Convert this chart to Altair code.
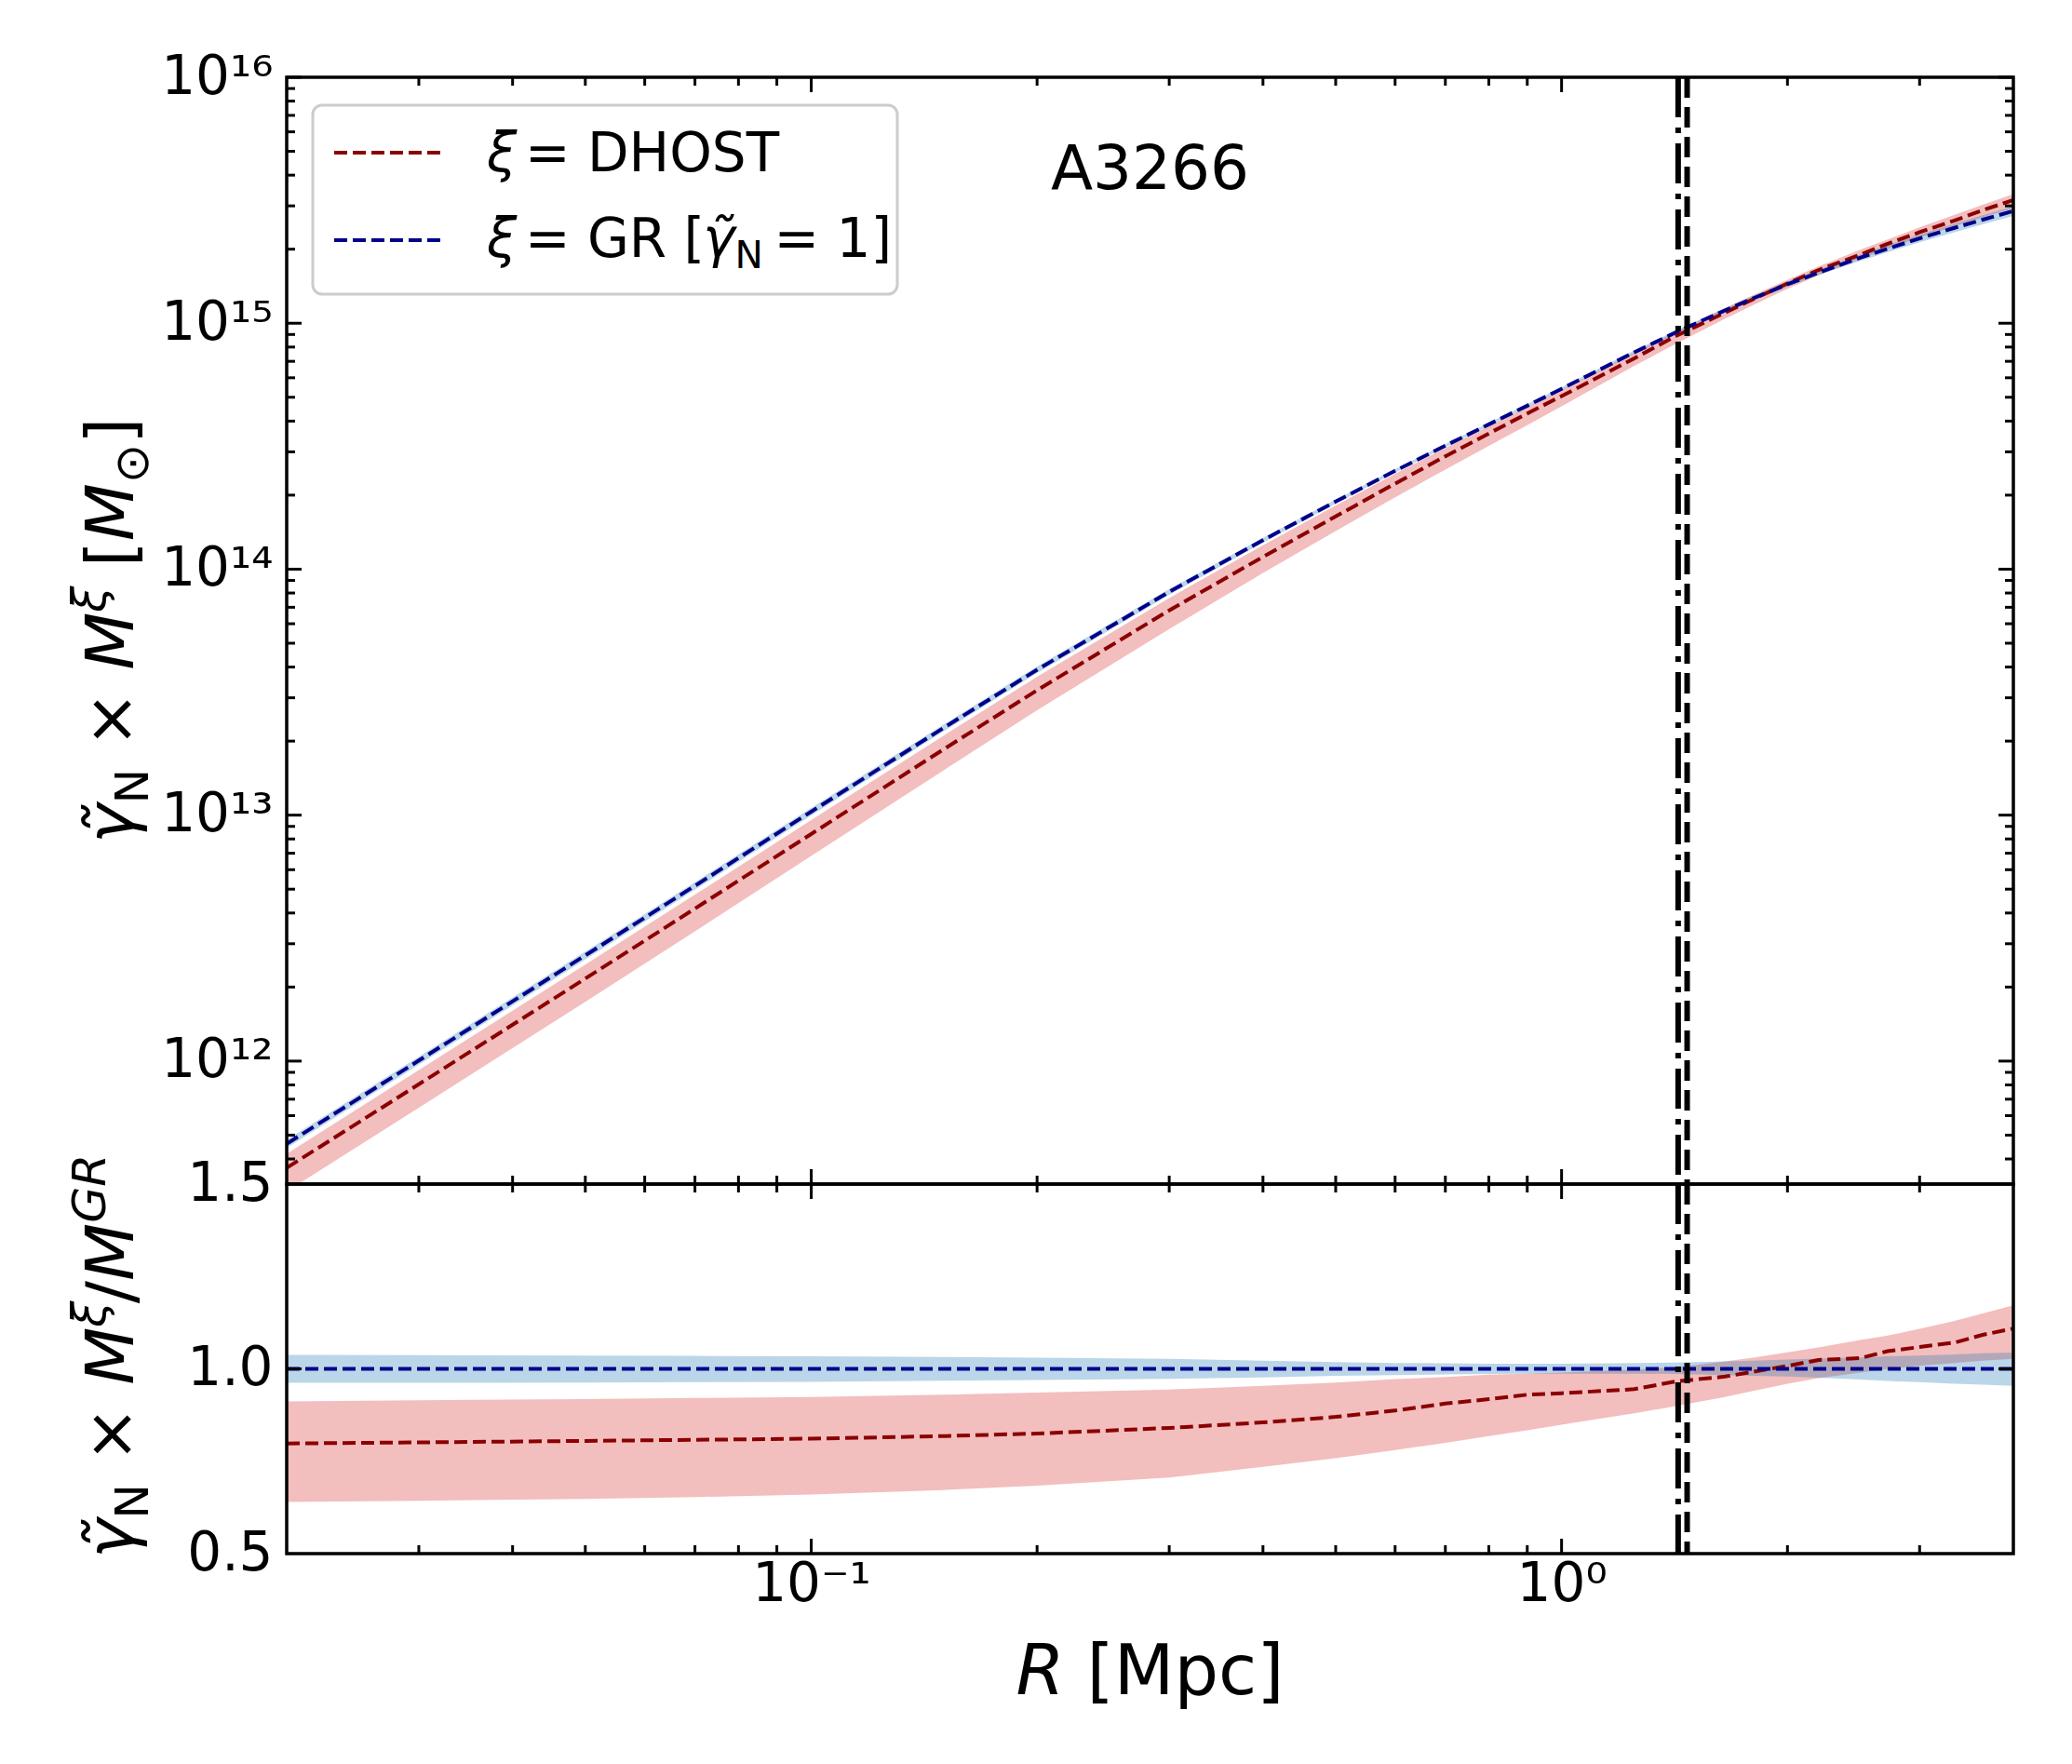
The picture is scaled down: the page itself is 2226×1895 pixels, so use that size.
import altair as alt
import pandas as pd

# ---------------- data ----------------
R = [0.02, 0.03, 0.05, 0.07, 0.1, 0.15, 0.2, 0.3, 0.4, 0.5, 0.6, 0.7, 0.8, 0.9,
     1.0, 1.25, 1.42, 1.65, 1.8, 2.0, 2.2, 2.5, 2.72, 3.0, 3.34, 3.64, 4.0]

# top panel: gamma_N x M  [M_sun]
M_GR = [4.61e11, 1.005e12, 2.69e12, 5.16e12, 1.033e13, 2.26e13, 3.90e13, 8.09e13, 1.312e14,
        1.884e14, 2.512e14, 3.177e14, 3.88e14, 4.62e14, 5.41e14, 7.62e14, 9.18e14, 1.127e15,
        1.262e15, 1.439e15, 1.607e15, 1.845e15, 2.009e15, 2.213e15, 2.443e15, 2.636e15, 2.858e15]
M_GR_hi = [4.785e11, 1.042e12, 2.787e12, 5.341e12, 1.068e13, 2.332e13, 4.017e13, 8.308e13, 1.341e14,
           1.918e14, 2.552e14, 3.225e14, 3.934e14, 4.685e14, 5.486e14, 7.742e14, 9.336e14, 1.150e15,
           1.290e15, 1.475e15, 1.652e15, 1.902e15, 2.077e15, 2.293e15, 2.538e15, 2.747e15, 2.984e15]
M_GR_lo = [4.435e11, 9.668e11, 2.590e12, 4.974e12, 9.968e12, 2.188e13, 3.783e13, 7.872e13, 1.282e14,
           1.848e14, 2.469e14, 3.129e14, 3.826e14, 4.560e14, 5.340e14, 7.521e14, 9.051e14, 1.108e15,
           1.238e15, 1.409e15, 1.568e15, 1.791e15, 1.943e15, 2.133e15, 2.345e15, 2.523e15, 2.727e15]
M_DH = [3.68e11, 8.05e11, 2.165e12, 4.17e12, 8.38e12, 1.849e13, 3.22e13, 6.80e13, 1.122e14,
        1.639e14, 2.228e14, 2.878e14, 3.562e14, 4.297e14, 5.053e14, 7.20e14, 8.87e14, 1.103e15,
        1.252e15, 1.451e15, 1.646e15, 1.899e15, 2.105e15, 2.344e15, 2.616e15, 2.879e15, 3.170e15]
M_DH_hi = [4.20e11, 9.20e11, 2.469e12, 4.752e12, 9.545e12, 2.102e13, 3.650e13, 7.637e13, 1.252e14,
           1.814e14, 2.442e14, 3.107e14, 3.818e14, 4.560e14, 5.356e14, 7.605e14, 9.217e14, 1.150e15,
           1.300e15, 1.504e15, 1.700e15, 1.989e15, 2.190e15, 2.452e15, 2.761e15, 3.031e15, 3.350e15]
M_DH_lo = [2.95e11, 6.46e11, 1.743e12, 3.369e12, 6.818e12, 1.519e13, 2.668e13, 5.712e13, 9.643e13,
           1.428e14, 1.959e14, 2.542e14, 3.174e14, 3.853e14, 4.593e14, 6.706e14, 8.253e14, 1.041e15,
           1.186e15, 1.381e15, 1.567e15, 1.827e15, 2.009e15, 2.231e15, 2.482e15, 2.694e15, 2.935e15]

# bottom panel: ratio to GR
Q_DH = [0.798, 0.801, 0.805, 0.808, 0.811, 0.818, 0.825, 0.840, 0.855, 0.870, 0.887, 0.906,
        0.918, 0.930, 0.934, 0.945, 0.966, 0.979, 0.992, 1.008, 1.024, 1.029, 1.048, 1.059,
        1.071, 1.092, 1.109]
Q_DH_hi = [0.912, 0.915, 0.918, 0.921, 0.924, 0.930, 0.936, 0.944, 0.954, 0.963, 0.972, 0.978,
           0.984, 0.987, 0.990, 0.998, 1.004, 1.020, 1.030, 1.045, 1.058, 1.078, 1.090, 1.108,
           1.130, 1.150, 1.172]
Q_DH_lo = [0.640, 0.643, 0.648, 0.653, 0.660, 0.672, 0.684, 0.706, 0.735, 0.758, 0.780, 0.800,
           0.818, 0.834, 0.849, 0.880, 0.899, 0.924, 0.940, 0.960, 0.975, 0.990, 1.000, 1.008,
           1.016, 1.022, 1.027]
Q_GR = [1.0, 1.0, 1.0, 1.0, 1.0, 1.0, 1.0, 1.0, 1.0, 1.0, 1.0, 1.0, 1.0, 1.0,
        1.0, 1.0, 1.0, 1.0, 1.0, 1.0, 1.0, 1.0, 1.0, 1.0, 1.0, 1.0, 1.0]
Q_GR_hi = [1.038, 1.037, 1.036, 1.035, 1.034, 1.032, 1.030, 1.027, 1.022, 1.018, 1.016, 1.015,
           1.014, 1.014, 1.014, 1.016, 1.017, 1.020, 1.022, 1.025, 1.028, 1.031, 1.034, 1.036,
           1.039, 1.042, 1.044]
Q_GR_lo = [0.962, 0.962, 0.963, 0.964, 0.965, 0.968, 0.970, 0.973, 0.977, 0.981, 0.983, 0.985,
           0.986, 0.987, 0.987, 0.987, 0.986, 0.983, 0.981, 0.979, 0.976, 0.971, 0.967, 0.964,
           0.960, 0.957, 0.954]

R_DASHDOT = [1.43]
R_DASHED = [1.47]

# ticks and tick labels
X_MAJOR = [0.1, 1.0]
X_MAJOR_LABELS = ["10\u207b\u00b9", "10\u2070"]
X_MINOR = [0.03, 0.04, 0.05, 0.06, 0.07, 0.08, 0.09, 0.2, 0.3, 0.4, 0.5, 0.6, 0.7, 0.8, 0.9, 2.0, 3.0]
Y_TOP_MAJOR = [1e12, 1e13, 1e14, 1e15, 1e16]
Y_TOP_LABELS = ["10\u00b9\u00b2", "10\u00b9\u00b3", "10\u00b9\u2074", "10\u00b9\u2075", "10\u00b9\u2076"]
Y_TOP_MINOR = [m * 10.0 ** k for k in range(11, 16) for m in range(2, 10) if m * 10.0 ** k > 3.2e11]
Y_BOT_MAJOR = [0.5, 1.0, 1.5]

# ---------------- layout / style ----------------
FONT = "DejaVu Sans"
W_PLOT = 1855
H_TOP = 1189
H_BOT = 397
RED_LINE = "#8b0000"
BLUE_LINE = "#00008b"
RED_FILL = "#d62728"
BLUE_FILL = "#1f77b4"
LINE_DASH = [14, 6]
TICK_W = 3
MAJ_LEN = 16
MIN_LEN = 9
SPACE_EM = 0.318

GLYPH_W = {'=': 0.838, '\u00d7': 0.838, '[': 0.390, ']': 0.390, '/': 0.337,
           '1': 0.636, 'A': 0.684, 'D': 0.770, 'H': 0.752, 'O': 0.787, 'S': 0.635,
           'T': 0.611, 'G': 0.775, 'R': 0.695, 'M': 0.863, 'N': 0.748, 'p': 0.635,
           'c': 0.550, '\u03b3': 0.592, '\u03be': 0.505, '\u2299': 0.838, '\u0303': 0.0}


def text_w(s, size, sp=SPACE_EM):
    return sum(sp if ch == ' ' else GLYPH_W.get(ch, 0.6) for ch in s) * size


dummy = pd.DataFrame({"d": [0]})


def text_layer(txt, x, y, size, italic=False, angle=0, align="left"):
    kw = dict(text=txt, font=FONT, fontSize=size, align=align, baseline="alphabetic",
              color="black", fontStyle="italic" if italic else "normal")
    if angle:
        kw["angle"] = angle
    return alt.Chart(dummy).mark_text(**kw).encode(x=alt.value(x), y=alt.value(y))


def split_ws(t):
    core = t.strip(' ')
    lead = len(t) - len(t.lstrip(' '))
    trail = len(t) - len(t.rstrip(' '))
    return lead, core, trail


def hsegs(segs, x0, y0, center=False, sp=SPACE_EM):
    total = sum(text_w(t, s, sp) for t, s, sh, it in segs)
    x = x0 - total / 2 if center else x0
    out = []
    for t, s, sh, it in segs:
        lead, core, trail = split_ws(t)
        x += lead * sp * s
        out.append(text_layer(core, x, y0 + sh, s, it))
        x += text_w(core, s, sp) + trail * sp * s
    return out


def vsegs(segs, xb, yc, sp=SPACE_EM):
    total = sum(text_w(t, s, sp) for t, s, sh, it in segs)
    y = yc + total / 2
    out = []
    for t, s, sh, it in segs:
        lead, core, trail = split_ws(t)
        y -= lead * sp * s
        out.append(text_layer(core, xb + sh, y, s, it, angle=270))
        y -= text_w(core, s, sp) + trail * sp * s
    return out


def log_label_expr(vals, labels):
    import math
    e = "''"
    for v, l in reversed(list(zip(vals, labels))):
        k = int(round(math.log10(v)))
        e = f"(round(log(datum.value)/LN10) == {k}) ? '{l}' : ({e})"
    return e


x_scale = alt.Scale(type="log", domain=[0.02, 4.0], nice=False)
y_top_scale = alt.Scale(type="log", domain=[10 ** 11.5, 1e16], nice=False)
y_bot_scale = alt.Scale(type="linear", domain=[0.5, 1.5], nice=False, zero=False)

common_axis = dict(ticks=False, tickSize=0, domain=False, grid=False, title=None,
                   labelFontSize=58, labelFont=FONT, labelColor="black")
y_top_axis = alt.Axis(values=Y_TOP_MAJOR, labelExpr=log_label_expr(Y_TOP_MAJOR, Y_TOP_LABELS),
                      labelPadding=15, **common_axis)
y_bot_axis = alt.Axis(values=Y_BOT_MAJOR, format=".1f", labelPadding=15, **common_axis)
x_bot_axis = alt.Axis(values=X_MAJOR, labelExpr=log_label_expr(X_MAJOR, X_MAJOR_LABELS),
                      labelPadding=4, **common_axis)


def XT(field):
    return alt.X(f"{field}:Q", scale=x_scale, axis=None)


def XB(field):
    return alt.X(f"{field}:Q", scale=x_scale, axis=x_bot_axis)


def YT(field):
    return alt.Y(f"{field}:Q", scale=y_top_scale, axis=y_top_axis)


def YB(field):
    return alt.Y(f"{field}:Q", scale=y_bot_scale, axis=y_bot_axis)


df_top = pd.DataFrame({"R": R, "gr": M_GR, "gr_hi": M_GR_hi, "gr_lo": M_GR_lo,
                       "dh": M_DH, "dh_hi": M_DH_hi, "dh_lo": M_DH_lo})
df_bot = pd.DataFrame({"R": R, "gr": Q_GR, "gr_hi": Q_GR_hi, "gr_lo": Q_GR_lo,
                       "dh": Q_DH, "dh_hi": Q_DH_hi, "dh_lo": Q_DH_lo})
df_dd = pd.DataFrame({"R": R_DASHDOT})
df_da = pd.DataFrame({"R": R_DASHED})
df_xmaj = pd.DataFrame({"v": X_MAJOR})
df_xmin = pd.DataFrame({"v": X_MINOR})
df_ytmaj = pd.DataFrame({"v": Y_TOP_MAJOR})
df_ytmin = pd.DataFrame({"v": Y_TOP_MINOR})
df_ybmaj = pd.DataFrame({"v": [1.0]})


def panel_layers(df, X, Y, H, y_major_df, y_minor_df):
    layers = [
        alt.Chart(df).mark_area(color=RED_FILL, opacity=0.3, clip=True).encode(
            x=X("R"), y=Y("dh_lo"), y2="dh_hi"),
        alt.Chart(df).mark_area(color=BLUE_FILL, opacity=0.3, clip=True).encode(
            x=X("R"), y=Y("gr_lo"), y2="gr_hi"),
        alt.Chart(df).mark_line(color=RED_LINE, strokeWidth=4, strokeDash=LINE_DASH, clip=True).encode(
            x=X("R"), y=Y("dh")),
        alt.Chart(df).mark_line(color=BLUE_LINE, strokeWidth=4, strokeDash=LINE_DASH, clip=True).encode(
            x=X("R"), y=Y("gr")),
        alt.Chart(df_dd).mark_rule(color="black", strokeWidth=6, strokeDash=[43, 11, 6, 11]).encode(
            x=X("R")),
        alt.Chart(df_da).mark_rule(color="black", strokeWidth=6, strokeDash=[22, 10]).encode(
            x=X("R")),
    ]
    # inward ticks on all four sides
    for dfx, ln in ((df_xmaj, MAJ_LEN), (df_xmin, MIN_LEN)):
        layers.append(alt.Chart(dfx).mark_rule(color="black", strokeWidth=TICK_W).encode(
            x=X("v"), y=alt.value(0), y2=alt.value(ln)))
        layers.append(alt.Chart(dfx).mark_rule(color="black", strokeWidth=TICK_W).encode(
            x=X("v"), y=alt.value(H), y2=alt.value(H - ln)))
    for dfy, ln in ((y_major_df, MAJ_LEN), (y_minor_df, MIN_LEN)):
        if dfy is None:
            continue
        layers.append(alt.Chart(dfy).mark_rule(color="black", strokeWidth=TICK_W).encode(
            y=Y("v"), x=alt.value(0), x2=alt.value(ln)))
        layers.append(alt.Chart(dfy).mark_rule(color="black", strokeWidth=TICK_W).encode(
            y=Y("v"), x=alt.value(W_PLOT), x2=alt.value(W_PLOT - ln)))
    # frame on top
    layers.append(alt.Chart(dummy).mark_rect(filled=False, stroke="black", strokeWidth=3.5).encode(
        x=alt.value(0), x2=alt.value(W_PLOT), y=alt.value(0), y2=alt.value(H)))
    return layers


F_T = 72
SUB = 0.7
top_layers = panel_layers(df_top, XT, YT, H_TOP, df_ytmaj, df_ytmin)

# legend (inside upper-left)
top_layers += [
    alt.Chart(dummy).mark_rect(fill="white", fillOpacity=0.8, stroke="#cccccc", strokeWidth=3,
                               cornerRadius=10).encode(
        x=alt.value(28), x2=alt.value(656), y=alt.value(30), y2=alt.value(233)),
    alt.Chart(dummy).mark_rule(color=RED_LINE, strokeWidth=4, strokeDash=LINE_DASH).encode(
        x=alt.value(51), x2=alt.value(168), y=alt.value(81)),
    alt.Chart(dummy).mark_rule(color=BLUE_LINE, strokeWidth=4, strokeDash=LINE_DASH).encode(
        x=alt.value(51), x2=alt.value(168), y=alt.value(175)),
]
F_L = 58
LEG_SP = 0.2
top_layers += hsegs([("\u03be", F_L, 0, True), (" = DHOST", F_L, 0, False)], 215, 101, sp=LEG_SP)
top_layers += hsegs([("\u03be", F_L, 0, True), (" = GR [", F_L, 0, False),
                     (" \u03b3\u0303", F_L, 0, True), ("N", F_L * SUB, 12, False),
                     (" = 1]", F_L, 0, False)], 215, 193, sp=LEG_SP)
# cluster name
top_layers.append(text_layer("A3266", W_PLOT / 2, 120, 66, align="center"))
# y title (top)
top_layers += vsegs([("\u03b3\u0303", F_T, 0, True), ("N", F_T * SUB, 0.22 * F_T, False),
                     (" \u00d7 ", F_T, 0, False), ("M", F_T, 0, True),
                     ("\u03be", F_T * SUB, -0.42 * F_T, True), (" [", F_T, 0, False),
                     ("M", F_T, 0, True), ("\u2299", F_T * SUB, 0.22 * F_T, False),
                     ("]", F_T, 0, False)], -165, H_TOP / 2)
# layout anchor (fixes left/top offset of the plot on the page)
top_layers.append(alt.Chart(dummy).mark_rect(fill="white").encode(
    x=alt.value(-299), x2=alt.value(-298), y=alt.value(-74), y2=alt.value(-73)))

top = alt.layer(*top_layers).properties(width=W_PLOT, height=H_TOP)

bot_layers = panel_layers(df_bot, XB, YB, H_BOT, df_ybmaj, None)
bot_layers += vsegs([("\u03b3\u0303", F_T, 0, True), ("N", F_T * SUB, 0.22 * F_T, False),
                     (" \u00d7 ", F_T, 0, False), ("M", F_T, 0, True),
                     ("\u03be", F_T * SUB, -0.42 * F_T, True), ("/", F_T, 0, False),
                     ("M", F_T, 0, True), ("GR", F_T * SUB, -0.42 * F_T, True)], -165, 185)
bot_layers += hsegs([("R", 75, 0, True), (" [Mpc]", 75, 0, False)], W_PLOT / 2, 548, center=True)
# bottom anchor so descenders of the x title are not clipped
bot_layers.append(alt.Chart(dummy).mark_rect(fill="white").encode(
    x=alt.value(0), x2=alt.value(1), y=alt.value(600), y2=alt.value(601)))

bottom = alt.layer(*bot_layers).properties(width=W_PLOT, height=H_BOT)

chart = alt.vconcat(top, bottom, spacing=0, bounds="flush").properties(
    padding=0
).configure_view(strokeWidth=0).configure(font=FONT)

chart.save("out.html", embed_options={"renderer": "svg", "actions": False})
